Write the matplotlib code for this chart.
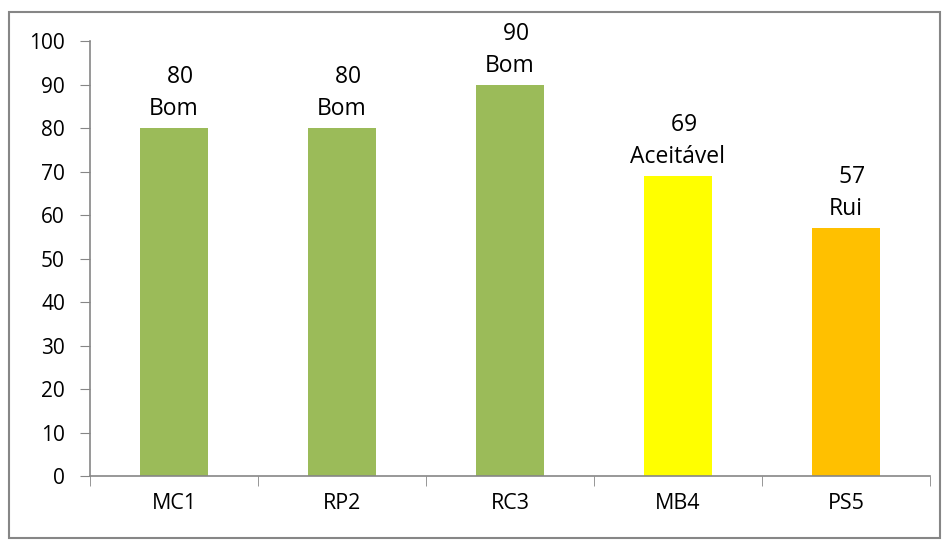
import matplotlib
matplotlib.use("Agg")
import matplotlib.pyplot as plt
from matplotlib.patches import Rectangle
import numpy as np

# Scores per item and their rating
categories = ["MC1", "RP2", "RC3", "MB4", "PS5"]
scores = [80, 80, 90, 69, 57]
ratings = ["Bom", "Bom", "Bom", "Aceitável", "Rui"]
colors = ["#9BBB59", "#9BBB59", "#9BBB59", "#FFFF00", "#FFC000"]

plt.rcParams["font.family"] = ["Open Sans", "DejaVu Sans"]
axis_gray = "#868686"

fig = plt.figure(figsize=(9.47, 5.41), dpi=100)
ax = fig.add_axes([0.095, 0.12, 0.887, 0.804])

x = np.arange(len(categories))
ax.bar(x, scores, width=0.4, color=colors, zorder=2)

for xi, v, r in zip(x, scores, ratings):
    ax.text(xi, v + 1.6, f"  {v}\n{r}", ha="center", va="bottom",
            multialignment="center", fontsize=16.5, linespacing=1.45)

ax.set_xlim(-0.5, len(categories) - 0.5)
ax.set_ylim(0, 100)
ax.set_yticks(range(0, 101, 10))
ax.set_xticks(x)
ax.set_xticklabels(categories, fontsize=15.5)
ax.tick_params(axis="y", labelsize=15, length=7, color=axis_gray, pad=11)
ax.tick_params(axis="x", length=0, pad=12)

# category boundary ticks on the x axis
ax.set_xticks(np.arange(-0.5, len(categories) + 0.5, 1), minor=True)
ax.tick_params(axis="x", which="minor", length=7, color=axis_gray, direction="out")

for side in ["top", "right"]:
    ax.spines[side].set_visible(False)
for side in ["left", "bottom"]:
    ax.spines[side].set_color(axis_gray)
    ax.spines[side].set_linewidth(1.2)

# outer frame around the chart area
fig.patches.append(Rectangle((9 / 947, 3 / 541), 931 / 947, 526 / 541,
                             transform=fig.transFigure, fill=False,
                             edgecolor=axis_gray, linewidth=1.5))

fig.savefig("out.png", dpi=100)
